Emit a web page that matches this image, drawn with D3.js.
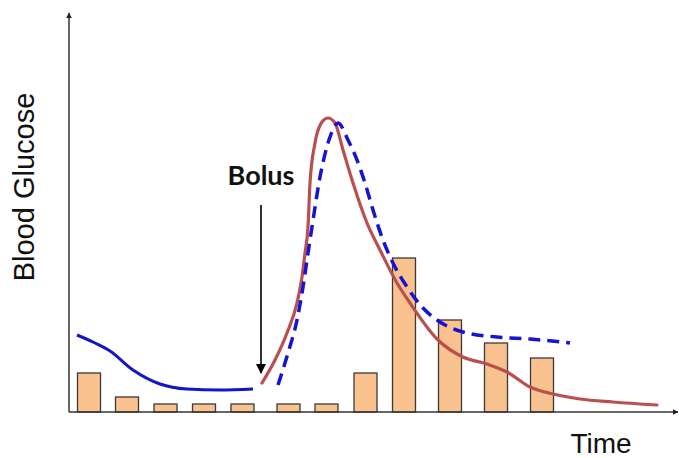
<!DOCTYPE html>
<html>
<head>
<meta charset="utf-8">
<script src="https://cdn.jsdelivr.net/npm/d3@7"></script>
<style>
  html, body { margin: 0; padding: 0; background: #fff; }
  svg { display: block; }
</style>
</head>
<body>
<svg id="chart" width="679" height="458"></svg>
<script>
// Bar times (centre) and heights: carbohydrate / insulin pulses
const barTimes = [2.0, 5.8, 9.65, 13.5, 17.35, 21.95, 25.75, 29.65, 33.5, 38.1, 42.7, 47.3];
const barValues = [9.75, 3.75, 2, 2, 2, 2, 2, 9.75, 38.5, 23, 17.25, 13.5];
const barWidth = 2.3;

// Glucose before the bolus (solid blue)
const preTimes = [0.8, 2.6, 4.1, 6.4, 9.1, 11.8, 15.1, 18.4];
const preValues = [19.25, 17.25, 15.25, 10.5, 7, 5.75, 5.5, 5.75];

// Glucose after the bolus (solid red)
const postTimes = [19.3, 20.6, 21.8, 22.8, 23.3, 23.6, 23.9, 24.1, 24.6, 25.3, 25.9, 26.6, 27.4, 28.4, 29.8, 31.1, 32.8, 34.1, 36.9, 39.4, 41.8, 43.8, 46.1, 48.4, 51.1, 54.4, 58.8];
const postValues = [7.25, 13, 19.75, 27.25, 33.75, 39.75, 46.25, 57.25, 67.25, 72.5, 73.5, 72.25, 65.5, 57.25, 47.25, 40.5, 32.25, 27.25, 18, 13.75, 12, 10, 6.25, 4.5, 3.25, 2.5, 1.75];

// Predicted glucose (dashed blue)
const predTimes = [20.9, 21.9, 22.8, 23.4, 23.9, 24.3, 25.1, 26.1, 26.9, 27.9, 28.8, 29.6, 30.4, 31.4, 32.4, 33.8, 35.4, 36.8, 39.4, 42.8, 46.1, 50.1];
const predValues = [6.75, 14.75, 23, 31.25, 39.75, 46.25, 58.75, 68.75, 72.25, 68, 63, 57.25, 50.5, 43, 37.25, 31.25, 26, 23, 20, 18.75, 18.25, 17.25];

// Bolus marker
const bolusTime = 19.2;
const bolusFrom = 51.75;
const bolusTo = 9.75;

const svg = d3.select("#chart");
const x = d3.scaleLinear().domain([0, 61]).range([69, 679]);
const y = d3.scaleLinear().domain([0, 100]).range([412, 12]);

const defs = svg.append("defs");
defs.append("marker")
  .attr("id", "axisArrow")
  .attr("viewBox", "0 0 10 10")
  .attr("refX", 9).attr("refY", 5)
  .attr("markerWidth", 6).attr("markerHeight", 6)
  .attr("markerUnits", "userSpaceOnUse")
  .attr("orient", "auto")
  .append("path").attr("d", "M0,0 L10,5 L0,10 Z").attr("fill", "#222");
defs.append("marker")
  .attr("id", "bolusArrow")
  .attr("viewBox", "0 0 10 10")
  .attr("refX", 9).attr("refY", 5)
  .attr("markerWidth", 11).attr("markerHeight", 10)
  .attr("markerUnits", "userSpaceOnUse")
  .attr("orient", "auto")
  .append("path").attr("d", "M0,0 L10,5 L0,10 Z").attr("fill", "#000");

// Bars
svg.append("g").selectAll("rect")
  .data(barTimes.map((t, i) => ({ t, v: barValues[i] })))
  .join("rect")
  .attr("x", d => x(d.t - barWidth / 2))
  .attr("width", x(barWidth) - x(0))
  .attr("y", d => y(d.v))
  .attr("height", d => y(0) - y(d.v))
  .attr("fill", "#fac28e")
  .attr("stroke", "#3a3a3a")
  .attr("stroke-width", 1.3);

const line = d3.line()
  .x(d => x(d[0]))
  .y(d => y(d[1]))
  .curve(d3.curveMonotoneX);

svg.append("path")
  .datum(preTimes.map((t, i) => [t, preValues[i]]))
  .attr("d", line)
  .attr("fill", "none")
  .attr("stroke", "#1414c8")
  .attr("stroke-width", 3);

svg.append("path")
  .datum(postTimes.map((t, i) => [t, postValues[i]]))
  .attr("d", line)
  .attr("fill", "none")
  .attr("stroke", "#b9504e")
  .attr("stroke-width", 3.2)
  .attr("stroke-linecap", "round");

svg.append("path")
  .datum(predTimes.map((t, i) => [t, predValues[i]]))
  .attr("d", line)
  .attr("fill", "none")
  .attr("stroke", "#1414d2")
  .attr("stroke-width", 3.5)
  .attr("stroke-dasharray", "12,7");

// Axes
svg.append("line")
  .attr("x1", x(0)).attr("y1", y(0))
  .attr("x2", x(0)).attr("y2", 13)
  .attr("stroke", "#333").attr("stroke-width", 1.5)
  .attr("marker-end", "url(#axisArrow)");
svg.append("line")
  .attr("x1", x(0)).attr("y1", y(0))
  .attr("x2", 678).attr("y2", y(0))
  .attr("stroke", "#333").attr("stroke-width", 1.5)
  .attr("marker-end", "url(#axisArrow)");

// Bolus annotation
svg.append("line")
  .attr("x1", x(bolusTime)).attr("y1", y(bolusFrom))
  .attr("x2", x(bolusTime)).attr("y2", y(bolusTo))
  .attr("stroke", "#000").attr("stroke-width", 1.6)
  .attr("marker-end", "url(#bolusArrow)");
svg.append("text")
  .attr("x", x(bolusTime)).attr("y", 185)
  .attr("text-anchor", "middle")
  .attr("font-family", "Lato, 'Open Sans', sans-serif")
  .attr("font-weight", "bold")
  .attr("font-size", 27)
  .attr("fill", "#111")
  .text("Bolus");

// Axis titles
svg.append("text")
  .attr("transform", "translate(34,187) rotate(-90)")
  .attr("text-anchor", "middle")
  .attr("font-family", "'Liberation Sans', Arial, sans-serif")
  .attr("font-size", 29)
  .attr("fill", "#111")
  .text("Blood Glucose");
svg.append("text")
  .attr("x", 601).attr("y", 453)
  .attr("text-anchor", "middle")
  .attr("font-family", "'Liberation Sans', Arial, sans-serif")
  .attr("font-size", 28)
  .attr("fill", "#111")
  .text("Time");
</script>
</body>
</html>
